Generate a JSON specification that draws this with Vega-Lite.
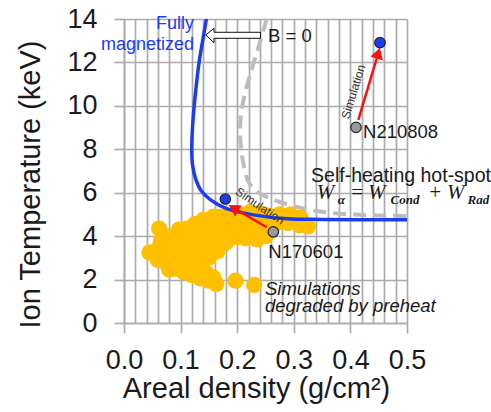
{
  "$schema": "https://vega.github.io/schema/vega-lite/v6.json",
  "width": 283,
  "height": 304,
  "autosize": {"type": "none"},
  "padding": {"left": 124, "top": 19, "right": 84, "bottom": 89},
  "background": "white",
  "config": {"view": {"stroke": null}},
  "datasets": {
    "blob": [
      {"x":0.045,"y":3.25},{"x":0.06,"y":2.9},{"x":0.06,"y":3.4},{"x":0.062,"y":4.35},{"x":0.075,"y":2.75},{"x":0.075,"y":3.2},{"x":0.075,"y":3.6},{"x":0.072,"y":4.0},
      {"x":0.09,"y":2.5},{"x":0.09,"y":2.9},{"x":0.09,"y":3.3},{"x":0.09,"y":3.7},{"x":0.092,"y":4.1},{"x":0.097,"y":4.3},
      {"x":0.105,"y":2.35},{"x":0.105,"y":2.75},{"x":0.105,"y":3.15},{"x":0.105,"y":3.55},{"x":0.105,"y":3.95},{"x":0.108,"y":4.35},
      {"x":0.12,"y":2.2},{"x":0.12,"y":2.6},{"x":0.12,"y":3.0},{"x":0.12,"y":3.4},{"x":0.12,"y":3.8},{"x":0.12,"y":4.2},{"x":0.125,"y":4.55},
      {"x":0.135,"y":2.05},{"x":0.135,"y":2.45},{"x":0.135,"y":2.85},{"x":0.135,"y":3.25},{"x":0.135,"y":3.65},{"x":0.135,"y":4.05},{"x":0.138,"y":4.45},{"x":0.14,"y":4.75},
      {"x":0.15,"y":1.95},{"x":0.145,"y":2.3},{"x":0.15,"y":3.0},{"x":0.15,"y":3.4},{"x":0.15,"y":3.8},{"x":0.15,"y":4.2},{"x":0.155,"y":4.6},{"x":0.158,"y":4.9},
      {"x":0.163,"y":1.8},{"x":0.158,"y":2.1},{"x":0.165,"y":3.3},{"x":0.165,"y":3.7},{"x":0.165,"y":4.1},{"x":0.17,"y":4.5},{"x":0.17,"y":4.9},
      {"x":0.18,"y":3.7},{"x":0.18,"y":4.1},{"x":0.185,"y":4.5},{"x":0.185,"y":4.85},
      {"x":0.2,"y":3.95},{"x":0.2,"y":4.35},{"x":0.2,"y":4.7},{"x":0.205,"y":5.0},
      {"x":0.215,"y":3.9},{"x":0.215,"y":4.3},{"x":0.218,"y":4.7},{"x":0.222,"y":5.1},
      {"x":0.235,"y":3.85},{"x":0.235,"y":4.25},{"x":0.238,"y":4.65},{"x":0.24,"y":5.05},
      {"x":0.25,"y":4.0},{"x":0.255,"y":4.5},{"x":0.255,"y":4.95},{"x":0.27,"y":4.6},{"x":0.275,"y":5.0},
      {"x":0.29,"y":4.6},{"x":0.294,"y":5.0},{"x":0.31,"y":4.5},{"x":0.312,"y":4.85},{"x":0.325,"y":4.45},
      {"x":0.08,"y":2.45},{"x":0.065,"y":3.75},{"x":0.197,"y":1.95},{"x":0.23,"y":1.75}
    ],
    "bzero": [
      {"i":1,"x":0.252,"y":14},{"i":2,"x":0.24,"y":12.9},{"i":3,"x":0.228,"y":11.9},{"i":4,"x":0.218,"y":11.0},{"i":5,"x":0.209,"y":10.0},
      {"i":6,"x":0.205,"y":9.0},{"i":7,"x":0.207,"y":8.0},{"i":8,"x":0.212,"y":7.2},{"i":9,"x":0.22,"y":6.5},{"i":10,"x":0.235,"y":6.05},
      {"i":11,"x":0.262,"y":5.7},{"i":12,"x":0.3,"y":5.38},{"i":13,"x":0.35,"y":5.12},{"i":14,"x":0.4,"y":5.0},{"i":15,"x":0.45,"y":4.95},{"i":16,"x":0.5,"y":4.93}
    ],
    "mag": [
      {"i":1,"x":0.1456,"y":14},{"i":2,"x":0.139,"y":13},{"i":3,"x":0.1326,"y":12},{"i":4,"x":0.128,"y":11},{"i":5,"x":0.124,"y":10},
      {"i":6,"x":0.121,"y":9},{"i":7,"x":0.1197,"y":8},{"i":8,"x":0.121,"y":7.3},{"i":9,"x":0.127,"y":6.6},{"i":10,"x":0.136,"y":6.1},
      {"i":11,"x":0.153,"y":5.67},{"i":12,"x":0.18,"y":5.28},{"i":13,"x":0.229,"y":4.98},{"i":14,"x":0.288,"y":4.8},{"i":15,"x":0.35,"y":4.77},
      {"i":16,"x":0.42,"y":4.76},{"i":17,"x":0.5,"y":4.76}
    ],
    "hollow": [
      {"i":1,"x":0.1444,"y":13.263},{"i":2,"x":0.159,"y":13.572},{"i":3,"x":0.159,"y":13.388},{"i":4,"x":0.2412,"y":13.388},
      {"i":5,"x":0.2412,"y":13.112},{"i":6,"x":0.159,"y":13.112},{"i":7,"x":0.159,"y":12.909},{"i":8,"x":0.1444,"y":13.263}
    ],
    "arrows": [
      {"id":"a","i":1,"x":0.414,"y":9.35},{"id":"a","i":2,"x":0.4493,"y":12.43},
      {"id":"b","i":1,"x":0.2521,"y":4.41},{"id":"b","i":2,"x":0.1935,"y":5.3}
    ],
    "pts": [
      {"kind":"sim","x":0.4523,"y":12.91},{"kind":"exp","x":0.4099,"y":9.01},
      {"kind":"sim","x":0.179,"y":5.71},{"kind":"exp","x":0.2638,"y":4.2}
    ]
  },
  "encoding": {
    "x": {
      "field": "x", "type": "quantitative",
      "scale": {"domain": [0, 0.5], "nice": false, "zero": false},
      "axis": {
        "values": [0,0.02,0.04,0.06,0.08,0.1,0.12,0.14,0.16,0.18,0.2,0.22,0.24,0.26,0.28,0.3,0.32,0.34,0.36,0.38,0.4,0.42,0.44,0.46,0.48,0.5],
        "grid": true, "gridColor": "#ababab", "gridWidth": 1.7,
        "domain": true, "domainColor": "#ababab", "domainWidth": 1.7,
        "ticks": true, "tickSize": 10, "tickColor": "#ababab", "tickWidth": 1.7,
        "tickOpacity": {"condition": {"test": "abs(datum.value*10-round(datum.value*10))>0.001", "value": 0}, "value": 1},
        "labelExpr": "abs(datum.value*10-round(datum.value*10))<0.001 ? format(datum.value,'.1f') : ''",
        "labelOverlap": false, "labelFlush": false, "labelBound": false,
        "labelFont": "Liberation Sans", "labelFontSize": 27, "labelColor": "#1a1a1a",
        "labelPadding": 35, "labelBaseline": "alphabetic",
        "title": "Areal density (g/cm²)", "titleFont": "Liberation Sans", "titleFontSize": 29,
        "titleFontWeight": "normal", "titleColor": "#1a1a1a",
        "titleX": 132, "titleY": 74, "titleAlign": "center", "titleBaseline": "alphabetic"
      }
    },
    "y": {
      "field": "y", "type": "quantitative",
      "scale": {"domain": [0, 14], "nice": false, "zero": false},
      "axis": {
        "values": [0,2,4,6,8,10,12,14],
        "grid": true, "gridColor": "#ababab", "gridWidth": 1.7,
        "domain": true, "domainColor": "#ababab", "domainWidth": 1.7,
        "ticks": true, "tickSize": 10, "tickColor": "#ababab", "tickWidth": 1.7,
        "labelFont": "Liberation Sans", "labelFontSize": 27, "labelColor": "#1a1a1a",
        "labelPadding": 17, "labelBaseline": "middle",
        "title": "Ion Temperature (keV)", "titleFont": "Liberation Sans", "titleFontSize": 29,
        "titleFontWeight": "normal", "titleColor": "#1a1a1a",
        "titleX": -94, "titleY": 165, "titleAngle": -90, "titleAlign": "center", "titleBaseline": "middle"
      }
    }
  },
  "layer": [
    {"data": {"name": "blob"}, "mark": {"type": "circle", "size": 265, "color": "#FFC000", "opacity": 1}},
    {"data": {"name": "bzero"}, "mark": {"type": "line", "color": "#bdbdbd", "strokeWidth": 4, "strokeDash": [13, 7], "interpolate": "catmull-rom"},
     "encoding": {"order": {"field": "i", "type": "quantitative"}}},
    {"data": {"name": "mag"}, "mark": {"type": "line", "color": "#1c3cf2", "strokeWidth": 3.5, "interpolate": "catmull-rom"},
     "encoding": {"order": {"field": "i", "type": "quantitative"}}},
    {"data": {"name": "hollow"}, "mark": {"type": "line", "stroke": "#111111", "strokeWidth": 1, "fill": "white"},
     "encoding": {"order": {"field": "i", "type": "quantitative"}}},
    {"data": {"name": "arrows"}, "mark": {"type": "line", "color": "#ff1010", "strokeWidth": 2.5},
     "encoding": {"detail": {"field": "id"}, "order": {"field": "i", "type": "quantitative"}}},
    {"data": {"name": "arrows"}, "transform": [{"filter": "datum.id == 'a' && datum.i == 2"}],
     "mark": {"type": "point", "shape": "triangle-up", "filled": true, "color": "#ff1010", "size": 170, "angle": 17, "opacity": 1}},
    {"data": {"name": "arrows"}, "transform": [{"filter": "datum.id == 'b' && datum.i == 2"}],
     "mark": {"type": "point", "shape": "triangle-up", "filled": true, "color": "#ff1010", "size": 170, "angle": 301, "opacity": 1}},
    {"data": {"name": "pts"}, "mark": {"type": "circle", "size": 110, "stroke": "#222222", "strokeWidth": 1.2, "opacity": 1},
     "encoding": {"fill": {"field": "kind", "type": "nominal", "scale": {"domain": ["sim", "exp"], "range": ["#1c3cf2", "#9a9a9a"]}, "legend": null}}},
    {"data": {"values": [{"t": "Fully", "x": 0.1237, "y": 13.53}, {"t": "magnetized", "x": 0.1237, "y": 12.57}]},
     "mark": {"type": "text", "align": "right", "baseline": "alphabetic", "font": "Liberation Sans", "fontSize": 18, "color": "#1c3cf2"},
     "encoding": {"text": {"field": "t"}}},
    {"data": {"values": [{"t": "B = 0", "x": 0.2544, "y": 12.95}, {"t": "N210808", "x": 0.4223, "y": 8.53}, {"t": "N170601", "x": 0.255, "y": 2.98}]},
     "mark": {"type": "text", "align": "left", "baseline": "alphabetic", "font": "Liberation Sans", "fontSize": 18.5, "color": "#1a1a1a"},
     "encoding": {"text": {"field": "t"}}},
    {"data": {"values": [{"t": "Self-heating hot-spot", "x": 0.4894, "y": 6.5}]},
     "mark": {"type": "text", "align": "center", "baseline": "alphabetic", "font": "Liberation Sans", "fontSize": 19.5, "color": "#1a1a1a"},
     "encoding": {"text": {"field": "t"}}},
    {"data": {"values": [{"t": "W", "x": 0.3405, "y": 5.697}, {"t": "=", "x": 0.3995, "y": 5.697}, {"t": "W", "x": 0.4311, "y": 5.697}, {"t": "+", "x": 0.5371, "y": 5.697}, {"t": "W", "x": 0.5707, "y": 5.697}]},
     "mark": {"type": "text", "align": "left", "baseline": "alphabetic", "font": "Liberation Serif", "fontStyle": "italic", "fontSize": 21, "color": "#1a1a1a"},
     "encoding": {"text": {"field": "t"}}},
    {"data": {"values": [{"t": "α", "x": 0.3775, "y": 5.48}, {"t": "Cond", "x": 0.471, "y": 5.48}, {"t": "Rad", "x": 0.607, "y": 5.48}]},
     "mark": {"type": "text", "align": "left", "baseline": "alphabetic", "font": "Liberation Serif", "fontStyle": "italic", "fontWeight": "bold", "fontSize": 13, "color": "#1a1a1a"},
     "encoding": {"text": {"field": "t"}}},
    {"data": {"values": [{"t": "Simulations", "x": 0.2491, "y": 1.29}, {"t": "degraded by preheat", "x": 0.2491, "y": 0.507}]},
     "mark": {"type": "text", "align": "left", "baseline": "alphabetic", "font": "Liberation Sans", "fontStyle": "italic", "fontSize": 18.5, "color": "#1a1a1a"},
     "encoding": {"text": {"field": "t"}}},
    {"data": {"values": [{"t": "Simulation", "x": 0.4052, "y": 10.65}]},
     "mark": {"type": "text", "align": "center", "baseline": "middle", "font": "Liberation Sans", "fontSize": 12, "angle": 287, "color": "#333333"},
     "encoding": {"text": {"field": "t"}}},
    {"data": {"values": [{"t": "Simulation", "x": 0.2403, "y": 5.39}]},
     "mark": {"type": "text", "align": "center", "baseline": "middle", "font": "Liberation Sans", "fontSize": 12, "angle": 34, "color": "#333333"},
     "encoding": {"text": {"field": "t"}}}
  ]
}
